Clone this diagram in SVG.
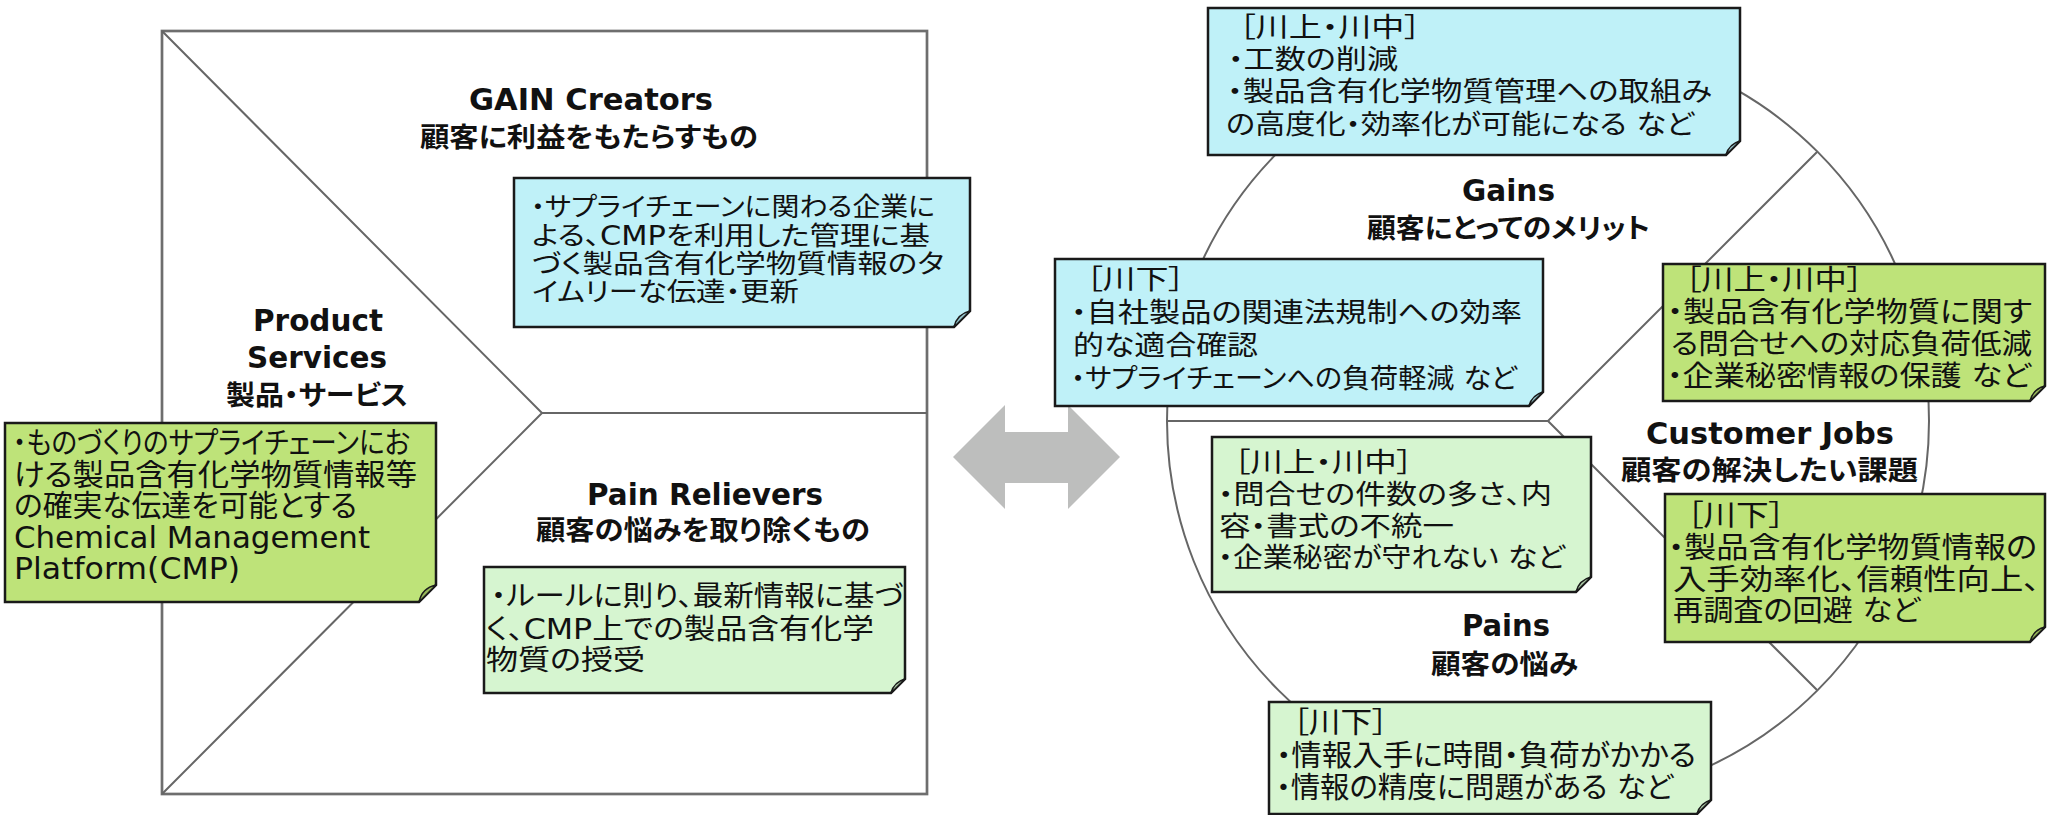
<svg xmlns="http://www.w3.org/2000/svg" width="2047" height="815" viewBox="0 0 2047 815">
<style>
text { font-family: "DejaVu Sans", "Noto Sans CJK JP", sans-serif; fill: #111; font-feature-settings: "palt" 1; }
.h { font-weight: bold; font-size: 29.5px; }
.hj { font-weight: bold; font-size: 27.5px; }
.frame { fill: none; stroke: #6e6e6e; stroke-width: 2.7; }
.div { fill: none; stroke: #666; stroke-width: 2; }
.box { stroke: #1a1a1a; stroke-width: 2.5; stroke-linejoin: miter; }
.fold { stroke: #1a1a1a; stroke-width: 1.5; stroke-linejoin: round; }
.cy { fill: #BFF1F8; } .cyf { fill: #93C2C9; }
.gr { fill: #BEE379; } .grf { fill: #97B65A; }
.lg { fill: #D6F5D0; } .lgf { fill: #A9C6A4; }
.s25 { font-size: 26px; } .s26 { font-size: 27px; } .s27 { font-size: 28px; } .s28 { font-size: 29px; } .s30 { font-size: 30px; }
</style>

<g id="value-map">
  <rect class="frame" x="162" y="31" width="765" height="763"/>
  <polyline class="div" points="162,31 542,413 162,794"/>
  <line class="div" x1="542" y1="413" x2="927" y2="413"/>
</g>

<g id="customer-profile">
  <circle class="div" cx="1548" cy="421" r="381"/>
  <path class="div" d="M1167,421 H1548 M1548,421 L1817,152 M1548,421 L1817,690"/>
</g>

<g id="connectors">
  <polygon fill="#BDBEBD" points="953,457 1005,405 1005,432 1068,432 1068,405 1120,457 1068,509 1068,483 1005,483 1005,509"/>
</g>

<g id="label-gain-creators">
  <text class="h" x="469" y="110" textLength="244" lengthAdjust="spacingAndGlyphs">GAIN Creators</text>
  <text class="hj" x="420" y="147" textLength="338" lengthAdjust="spacingAndGlyphs">顧客に利益をもたらすもの</text>
</g>
<g id="label-product-services">
  <text class="h" x="253" y="331" textLength="130" lengthAdjust="spacingAndGlyphs">Product</text>
  <text class="h" x="247" y="368" textLength="140" lengthAdjust="spacingAndGlyphs">Services</text>
  <text class="hj" x="226" y="405" textLength="182" lengthAdjust="spacingAndGlyphs">製品・サービス</text>
</g>
<g id="label-pain-relievers">
  <text class="h" x="587" y="505" textLength="236" lengthAdjust="spacingAndGlyphs">Pain Relievers</text>
  <text class="hj" x="536" y="540" textLength="334" lengthAdjust="spacingAndGlyphs">顧客の悩みを取り除くもの</text>
</g>
<g id="label-gains">
  <text class="h" x="1462" y="201" textLength="93" lengthAdjust="spacingAndGlyphs">Gains</text>
  <text class="hj" x="1367" y="238" textLength="283" lengthAdjust="spacingAndGlyphs">顧客にとってのメリット</text>
</g>
<g id="label-customer-jobs">
  <text class="h" x="1646" y="444" textLength="248" lengthAdjust="spacingAndGlyphs">Customer Jobs</text>
  <text class="hj" x="1621" y="480" textLength="297" lengthAdjust="spacingAndGlyphs">顧客の解決したい課題</text>
</g>
<g id="label-pains">
  <text class="h" x="1462" y="636" textLength="88" lengthAdjust="spacingAndGlyphs">Pains</text>
  <text class="hj" x="1431" y="674" textLength="147" lengthAdjust="spacingAndGlyphs">顧客の悩み</text>
</g>

<g id="box-gain-creators">
  <path class="box cy" d="M514,178 H970 V311 L954,327 H514 Z"/>
  <path class="fold cyf" d="M954,327 Q957,314 970,311 Z"/>
  <text class="s25" x="531" y="216" textLength="404" lengthAdjust="spacingAndGlyphs">・サプライチェーンに関わる企業に</text>
  <text class="s25" x="532" y="244.5" textLength="398" lengthAdjust="spacingAndGlyphs">よる、CMPを利用した管理に基</text>
  <text class="s25" x="532" y="273" textLength="412" lengthAdjust="spacingAndGlyphs">づく製品含有化学物質情報のタ</text>
  <text class="s25" x="532" y="301" textLength="267" lengthAdjust="spacingAndGlyphs">イムリーな伝達・更新</text>
</g>

<g id="box-product-cmp">
  <path class="box gr" d="M5,423 H436 V585 L419,602 H5 Z"/>
  <path class="fold grf" d="M419,602 Q422,588 436,585 Z"/>
  <text class="s30" x="13" y="453" textLength="397" lengthAdjust="spacingAndGlyphs">・ものづくりのサプライチェーンにお</text>
  <text class="s30" x="14" y="485" textLength="403" lengthAdjust="spacingAndGlyphs">ける製品含有化学物質情報等</text>
  <text class="s30" x="14" y="516" textLength="343" lengthAdjust="spacingAndGlyphs">の確実な伝達を可能とする</text>
  <text class="s30" x="14" y="548" textLength="356" lengthAdjust="spacingAndGlyphs">Chemical Management</text>
  <text class="s30" x="14" y="579" textLength="226" lengthAdjust="spacingAndGlyphs">Platform(CMP)</text>
</g>

<g id="box-pain-relievers">
  <path class="box lg" d="M484,567 H905 V679 L891,693 H484 Z"/>
  <path class="fold lgf" d="M891,693 Q894,682 905,679 Z"/>
  <text class="s27" x="491" y="606" textLength="413" lengthAdjust="spacingAndGlyphs">・ルールに則り、最新情報に基づ</text>
  <text class="s27" x="486" y="639" textLength="388" lengthAdjust="spacingAndGlyphs">く、CMP上での製品含有化学</text>
  <text class="s27" x="486" y="670" textLength="159" lengthAdjust="spacingAndGlyphs">物質の授受</text>
</g>

<g id="box-gains-upstream">
  <path class="box cy" d="M1208,8 H1740 V141 L1726,155 H1208 Z"/>
  <path class="fold cyf" d="M1726,155 Q1729,144 1740,141 Z"/>
  <text class="s26" x="1239" y="37" textLength="182" lengthAdjust="spacingAndGlyphs">［川上・川中］</text>
  <text class="s26" x="1228" y="69" textLength="170" lengthAdjust="spacingAndGlyphs">・工数の削減</text>
  <text class="s26" x="1227" y="101" textLength="485" lengthAdjust="spacingAndGlyphs">・製品含有化学物質管理への取組み</text>
  <text class="s26" x="1226" y="134" textLength="468" lengthAdjust="spacingAndGlyphs">の高度化・効率化が可能になる など</text>
</g>

<g id="box-gains-downstream">
  <path class="box cy" d="M1055,259 H1543 V392 L1529,406 H1055 Z"/>
  <path class="fold cyf" d="M1529,406 Q1532,395 1543,392 Z"/>
  <text class="s26" x="1086" y="289" textLength="99" lengthAdjust="spacingAndGlyphs">［川下］</text>
  <text class="s26" x="1071" y="322" textLength="451" lengthAdjust="spacingAndGlyphs">・自社製品の関連法規制への効率</text>
  <text class="s26" x="1073" y="355" textLength="185" lengthAdjust="spacingAndGlyphs">的な適合確認</text>
  <text class="s26" x="1071" y="388" textLength="446" lengthAdjust="spacingAndGlyphs">・サプライチェーンへの負荷軽減 など</text>
</g>

<g id="box-jobs-upstream">
  <path class="box gr" d="M1663,264 H2045 V386 L2030,401 H1663 Z"/>
  <path class="fold grf" d="M2030,401 Q2033,389 2045,386 Z"/>
  <text class="s27" x="1685" y="290" textLength="178" lengthAdjust="spacingAndGlyphs">［川上・川中］</text>
  <text class="s27" x="1667" y="322" textLength="365" lengthAdjust="spacingAndGlyphs">・製品含有化学物質に関す</text>
  <text class="s27" x="1671" y="354" textLength="361" lengthAdjust="spacingAndGlyphs">る問合せへの対応負荷低減</text>
  <text class="s27" x="1667" y="386" textLength="364" lengthAdjust="spacingAndGlyphs">・企業秘密情報の保護 など</text>
</g>

<g id="box-pains-upstream">
  <path class="box lg" d="M1212,437 H1591 V577 L1576,592 H1212 Z"/>
  <path class="fold lgf" d="M1576,592 Q1579,580 1591,577 Z"/>
  <text class="s26" x="1234" y="472" textLength="179" lengthAdjust="spacingAndGlyphs">［川上・川中］</text>
  <text class="s26" x="1218" y="504" textLength="334" lengthAdjust="spacingAndGlyphs">・問合せの件数の多さ、内</text>
  <text class="s26" x="1219" y="536" textLength="235" lengthAdjust="spacingAndGlyphs">容・書式の不統一</text>
  <text class="s26" x="1218" y="567" textLength="347" lengthAdjust="spacingAndGlyphs">・企業秘密が守れない など</text>
</g>

<g id="box-jobs-downstream">
  <path class="box gr" d="M1665,494 H2045 V627 L2030,642 H1665 Z"/>
  <path class="fold grf" d="M2030,642 Q2033,630 2045,627 Z"/>
  <text class="s28" x="1687" y="526" textLength="98" lengthAdjust="spacingAndGlyphs">［川下］</text>
  <text class="s28" x="1668" y="558" textLength="369" lengthAdjust="spacingAndGlyphs">・製品含有化学物質情報の</text>
  <text class="s28" x="1673" y="590" textLength="367" lengthAdjust="spacingAndGlyphs">入手効率化、信頼性向上、</text>
  <text class="s28" x="1673" y="621" textLength="247" lengthAdjust="spacingAndGlyphs">再調査の回避 など</text>
</g>

<g id="box-pains-downstream">
  <path class="box lg" d="M1269,702 H1711 V800 L1697,814 H1269 Z"/>
  <path class="fold lgf" d="M1697,814 Q1700,803 1711,800 Z"/>
  <text class="s28" x="1293" y="733" textLength="95" lengthAdjust="spacingAndGlyphs">［川下］</text>
  <text class="s28" x="1276" y="766" textLength="420" lengthAdjust="spacingAndGlyphs">・情報入手に時間・負荷がかかる</text>
  <text class="s28" x="1276" y="798" textLength="397" lengthAdjust="spacingAndGlyphs">・情報の精度に問題がある など</text>
</g>
</svg>
